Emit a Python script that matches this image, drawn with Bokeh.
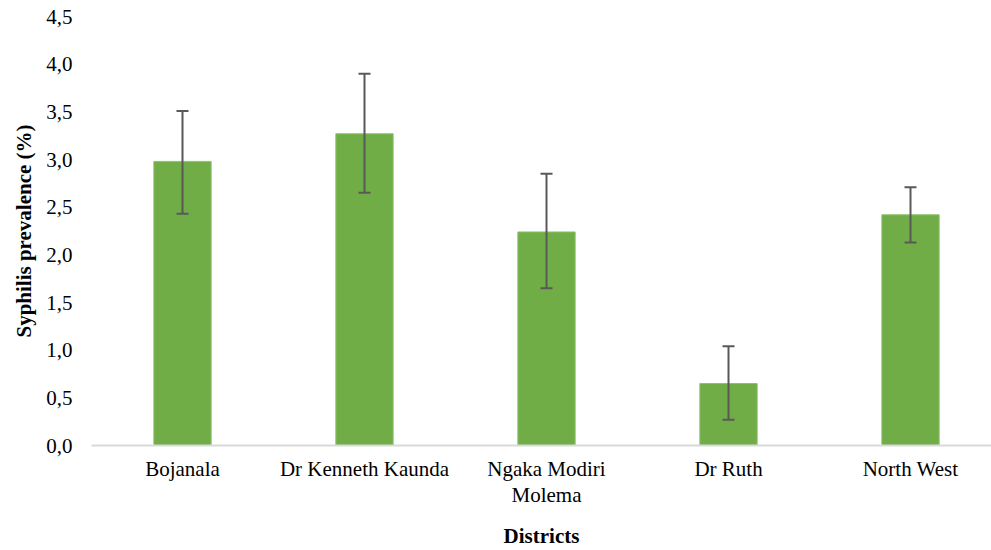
from bokeh.plotting import figure
from bokeh.models import ColumnDataSource, Whisker, TeeHead, FixedTicker, Range1d
from bokeh.embed import file_html
from bokeh.resources import INLINE

districts = ["Bojanala", "Dr Kenneth Kaunda", "Ngaka Modiri\nMolema", "Dr Ruth", "North West"]
prevalence = [2.98, 3.27, 2.24, 0.65, 2.42]
ci_lower = [2.43, 2.65, 1.65, 0.27, 2.13]
ci_upper = [3.51, 3.90, 2.85, 1.04, 2.71]
y_ticks = [0.0, 0.5, 1.0, 1.5, 2.0, 2.5, 3.0, 3.5, 4.0, 4.5]
y_tick_labels = ["0,0", "0,5", "1,0", "1,5", "2,0", "2,5", "3,0", "3,5", "4,0", "4,5"]

xpos = list(range(len(districts)))
src = ColumnDataSource(dict(x=xpos, top=prevalence, lower=ci_lower, upper=ci_upper))

p = figure(frame_width=900, frame_height=429, output_backend="svg", toolbar_location=None,
           x_range=Range1d(-0.5, 4.445), y_range=Range1d(0, 4.5),
           min_border_left=91, min_border_right=0, min_border_top=16, min_border_bottom=0)

p.vbar(x="x", top="top", width=0.315, bottom=0, source=src,
       fill_color="#70AD47", line_color="#8CC46A", line_width=1)

head_u = TeeHead(size=12, line_color="#595959", line_width=2)
head_l = TeeHead(size=12, line_color="#595959", line_width=2)
w = Whisker(base="x", upper="upper", lower="lower", source=src, level="annotation",
            line_color="#595959", line_width=2, upper_head=head_u, lower_head=head_l)
p.add_layout(w)

font = "Liberation Serif"
p.xgrid.visible = False
p.ygrid.visible = False
p.outline_line_color = None

p.xaxis.ticker = FixedTicker(ticks=xpos)
p.xaxis.major_label_overrides = {i: d for i, d in enumerate(districts)}
p.xaxis.axis_line_color = "#D9D9D9"
p.xaxis.axis_line_width = 2
p.xaxis.major_tick_line_color = None
p.xaxis.minor_tick_line_color = None
p.xaxis.major_tick_out = 0
p.xaxis.major_label_standoff = 11
p.xaxis.major_label_text_font = font
p.xaxis.major_label_text_font_size = "21px"
p.xaxis.major_label_text_line_height = 1.1
p.xaxis.major_label_text_color = "#000000"
p.xaxis.axis_label = "Districts"
p.xaxis.axis_label_text_font = font
p.xaxis.axis_label_text_font_style = "bold"
p.xaxis.axis_label_text_font_size = "21px"
p.xaxis.axis_label_text_color = "#000000"
p.xaxis.axis_label_standoff = 14

p.yaxis.ticker = FixedTicker(ticks=y_ticks)
p.yaxis.major_label_overrides = {t: l for t, l in zip(y_ticks, y_tick_labels)}
p.yaxis.axis_line_color = None
p.yaxis.major_tick_line_color = None
p.yaxis.minor_tick_line_color = None
p.yaxis.major_tick_out = 0
p.yaxis.major_label_standoff = 19
p.yaxis.major_label_text_font = font
p.yaxis.major_label_text_font_size = "21px"
p.yaxis.major_label_text_color = "#000000"
p.yaxis.axis_label = "Syphilis prevalence (%)"
p.yaxis.axis_label_text_font = font
p.yaxis.axis_label_text_font_style = "bold"
p.yaxis.axis_label_text_font_size = "21px"
p.yaxis.axis_label_text_color = "#000000"
p.yaxis.axis_label_standoff = 7

open("out.html", "w").write(file_html(p, INLINE))
